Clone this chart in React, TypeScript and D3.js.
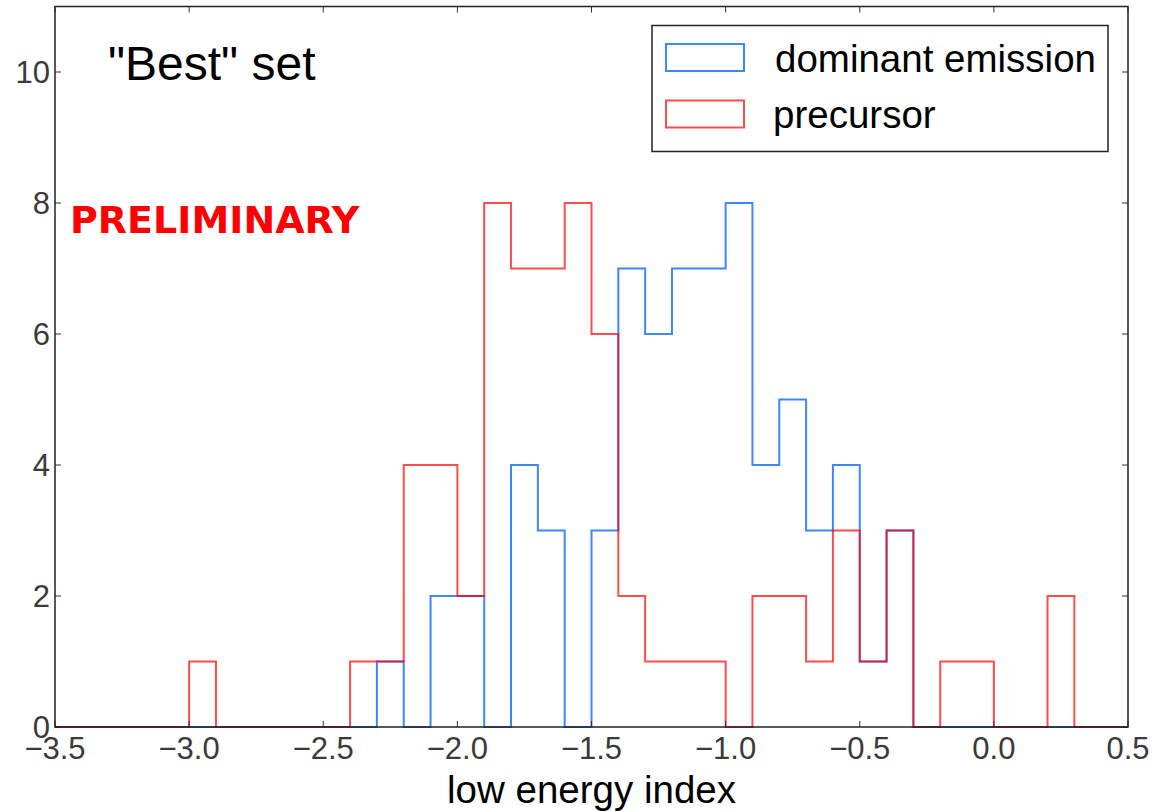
import React from "react";
import * as d3 from "d3";

const binEdges = [
  -3.5, -3.4, -3.3, -3.2, -3.1, -3.0, -2.9, -2.8, -2.7, -2.6, -2.5, -2.4, -2.3, -2.2,
  -2.1, -2.0, -1.9, -1.8, -1.7, -1.6, -1.5, -1.4, -1.3, -1.2, -1.1, -1.0, -0.9, -0.8,
  -0.7, -0.6, -0.5, -0.4, -0.3, -0.2, -0.1, 0.0, 0.1, 0.2, 0.3, 0.4, 0.5,
];

const dominantCounts = [
  0, 0, 0, 0, 0, 0, 0, 0, 0, 0, 0, 0, 1, 0, 2, 2, 0, 4, 3, 0,
  3, 7, 6, 7, 7, 8, 4, 5, 3, 4, 1, 3, 0, 0, 0, 0, 0, 0, 0, 0,
];

const precursorCounts = [
  0, 0, 0, 0, 0, 1, 0, 0, 0, 0, 0, 1, 1, 4, 4, 2, 8, 7, 7, 8,
  6, 2, 1, 1, 1, 0, 2, 2, 1, 3, 1, 3, 0, 1, 1, 0, 0, 2, 0, 0,
];

const xTicks = [-3.5, -3.0, -2.5, -2.0, -1.5, -1.0, -0.5, 0.0, 0.5];
const yTicks = [0, 2, 4, 6, 8, 10];

const seriesNames = ["dominant emission", "precursor"];

const W = 1160;
const H = 811;
const M = { left: 55, right: 1128, top: 6.5, bottom: 727 };
const FONT = "'Liberation Sans', Arial, Helvetica, sans-serif";

export default function App() {
  const x = d3.scaleLinear().domain([-3.5, 0.5]).range([M.left, M.right]);
  const y = d3.scaleLinear().domain([0, 11]).range([M.bottom, M.top]);

  const stepPath = (counts: number[]) => {
    const pts: [number, number][] = [[binEdges[0], 0]];
    counts.forEach((c, i) => {
      pts.push([binEdges[i], c]);
      pts.push([binEdges[i + 1], c]);
    });
    pts.push([binEdges[binEdges.length - 1], 0]);
    return d3
      .line<[number, number]>()
      .x((d) => x(d[0]))
      .y((d) => y(d[1]))(pts) as string;
  };

  const fmt = (v: number) => {
    const s = Math.abs(v).toFixed(1);
    return v < 0 ? "\u2212" + s : s;
  };

  const blue = "#0a64ff";
  const red = "#ff0000";
  const tickLen = 6;
  const tickColor = "#333";
  const labelColor = "#3a3a3a";

  return (
    <svg
      width={W}
      height={H}
      style={{ position: "absolute", left: 0, top: 0, background: "#fff" }}
      fontFamily={FONT}
    >
      <rect x={0} y={0} width={W} height={H} fill="#fff" />
      {/* histograms */}
      <path d={stepPath(dominantCounts)} fill="none" stroke={blue} strokeOpacity={0.78} strokeWidth={2} />
      <path d={stepPath(precursorCounts)} fill="none" stroke={red} strokeOpacity={0.7} strokeWidth={2} />

      {/* ticks */}
      {xTicks.map((t) => (
        <g key={"xt" + t}>
          <line x1={x(t)} x2={x(t)} y1={M.bottom} y2={M.bottom - tickLen} stroke={tickColor} strokeWidth={1} />
          <line x1={x(t)} x2={x(t)} y1={M.top} y2={M.top + tickLen} stroke={tickColor} strokeWidth={1} />
          <text x={x(t)} y={759} textAnchor="middle" fontSize={31} fill={labelColor}>
            {fmt(t)}
          </text>
        </g>
      ))}
      {yTicks.map((t) => (
        <g key={"yt" + t}>
          <line x1={M.left} x2={M.left + tickLen} y1={y(t)} y2={y(t)} stroke={tickColor} strokeWidth={1} />
          <line x1={M.right} x2={M.right - tickLen} y1={y(t)} y2={y(t)} stroke={tickColor} strokeWidth={1} />
          <text x={50} y={y(t)} dy="0.36em" textAnchor="end" fontSize={31} fill={labelColor}>
            {t}
          </text>
        </g>
      ))}

      {/* frame */}
      <rect
        x={M.left}
        y={M.top}
        width={M.right - M.left}
        height={M.bottom - M.top}
        fill="none"
        stroke="#222"
        strokeWidth={1.5}
      />

      {/* axis label */}
      <text x={(M.left + M.right) / 2} y={803} textAnchor="middle" fontSize={38.5} fill="#000">
        low energy index
      </text>

      {/* annotations */}
      <text x={108} y={80} fontSize={48} fill="#000">
        "Best" set
      </text>
      <text
        x={70}
        y={233}
        fontSize={38}
        fontWeight="bold"
        fontFamily="'DejaVu Sans', Verdana, sans-serif"
        fill="#ff0000"
      >
        PRELIMINARY
      </text>

      {/* legend */}
      <rect x={652} y={25.5} width={456} height={126} fill="#fff" stroke="#222" strokeWidth={1.5} />
      <rect x={666} y={44} width={78} height={27} fill="none" stroke={blue} strokeOpacity={0.78} strokeWidth={2} />
      <rect x={666} y={100.5} width={78} height={27} fill="none" stroke={red} strokeOpacity={0.7} strokeWidth={2} />
      <text x={775} y={72} fontSize={38.5} fill="#000">
        {seriesNames[0]}
      </text>
      <text x={773} y={128} fontSize={38.5} fill="#000">
        {seriesNames[1]}
      </text>
    </svg>
  );
}
